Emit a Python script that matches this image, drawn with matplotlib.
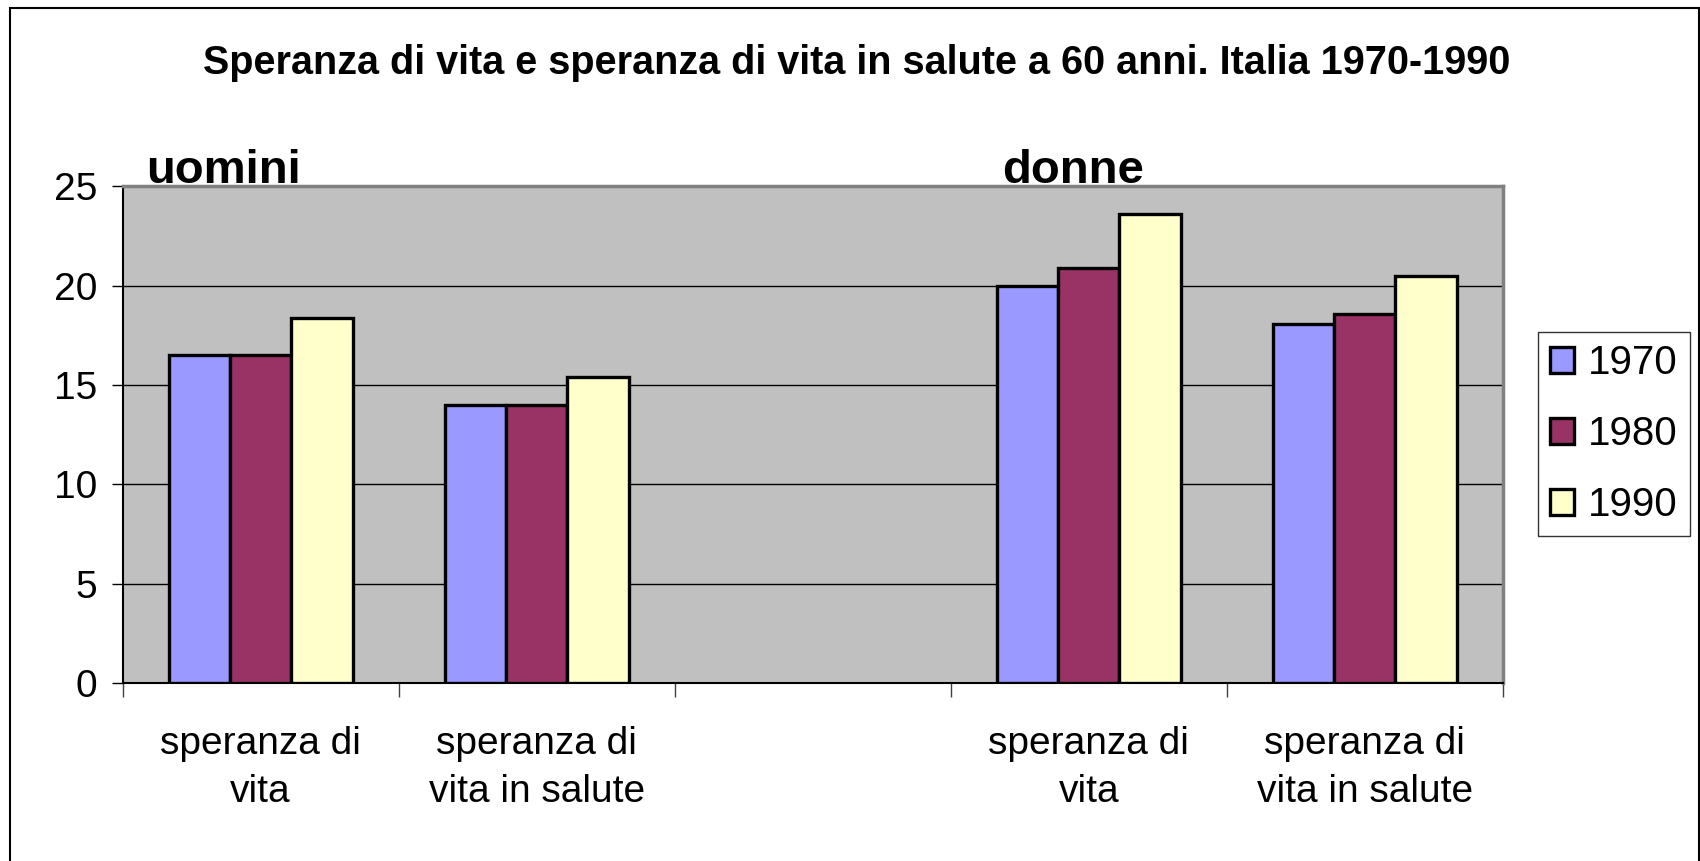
import matplotlib
matplotlib.use("Agg")
import matplotlib.pyplot as plt
import numpy as np
from matplotlib.patches import Rectangle

plt.rcParams['font.family'] = ['Liberation Sans', 'DejaVu Sans']

categories = ['speranza di\nvita', 'speranza di\nvita in salute', '',
              'speranza di\nvita', 'speranza di\nvita in salute']
years = ['1970', '1980', '1990']
v1970 = [16.5, 14.0, np.nan, 20.0, 18.1]
v1980 = [16.5, 14.0, np.nan, 20.9, 18.6]
v1990 = [18.4, 15.4, np.nan, 23.6, 20.5]
colors = ['#9999FF', '#993366', '#FFFFCC']
title = 'Speranza di vita e speranza di vita in salute a 60 anni. Italia 1970-1990'
groups = ['uomini', 'donne']
group_x = [-0.414, 2.685]


def main():
    fig = plt.figure(figsize=(17, 8.61), dpi=100)
    ax = fig.add_axes([0.0721, 0.2067, 0.8119, 0.5767])
    ax.set_facecolor('#C0C0C0')

    x = np.arange(len(categories))
    w = 1 / 4.5
    for i, (vals, c, lab) in enumerate(zip([v1970, v1980, v1990], colors, years)):
        ax.bar(x + (i - 1) * w, vals, width=w, color=c, edgecolor='black',
               linewidth=2.4, label=lab, zorder=3)

    ax.set_xlim(-0.5, len(categories) - 0.5)
    ax.set_ylim(0, 25)
    ax.set_yticks([0, 5, 10, 15, 20, 25])
    ax.yaxis.grid(True, color='black', linewidth=1.0, zorder=1)
    ax.set_axisbelow(True)

    ax.set_xticks(x)
    ax.set_xticklabels(categories, fontsize=28, linespacing=1.42)
    ax.tick_params(axis='x', which='major', length=0, pad=31)
    ax.set_xticks(np.arange(-0.5, len(categories)), minor=True)
    ax.tick_params(axis='x', which='minor', length=10, width=1, color='#404040')
    ax.tick_params(axis='y', labelsize=28, length=8, width=1, pad=10)

    for s in ['top', 'right']:
        ax.spines[s].set_color('#808080')
        ax.spines[s].set_linewidth(2.5)
    ax.spines['left'].set_color('black')
    ax.spines['left'].set_linewidth(1.5)
    ax.spines['bottom'].set_color('black')
    ax.spines['bottom'].set_linewidth(1.5)

    fig.text(0.504, 0.927, title, ha='center', va='center', fontsize=28.5,
             fontweight='bold')
    for gx, g in zip(group_x, groups):
        ax.text(gx, 24.65, g, ha='left', va='bottom', fontsize=34,
                fontweight='bold')

    leg = fig.legend(loc='center', bbox_to_anchor=(0.9493, 0.4956), fontsize=29,
                     frameon=True, fancybox=False, edgecolor='black',
                     handlelength=0.6, handleheight=0.6, handletextpad=0.35,
                     labelspacing=0.82, borderpad=0.3)
    leg.get_frame().set_linewidth(1.0)

    fig.patches.append(Rectangle((10 / 1700, -0.1), 1688.5 / 1700, 1.1 - 8 / 861,
                                 transform=fig.transFigure, fill=False,
                                 edgecolor='black', linewidth=1.5))

    plt.savefig('out.png', dpi=100)


if __name__ == '__main__':
    main()
